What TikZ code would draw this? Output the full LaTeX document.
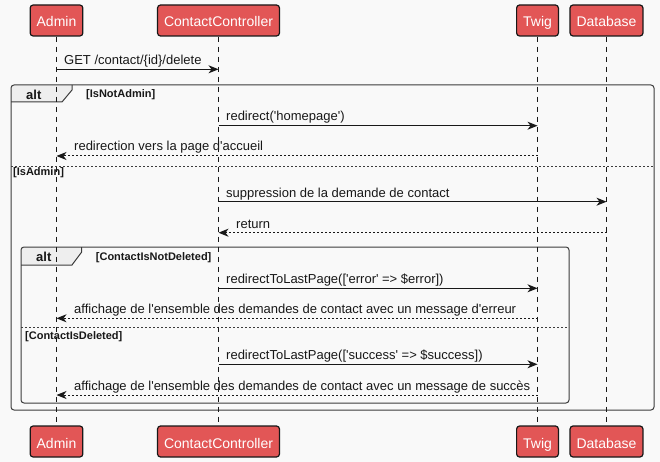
\documentclass[tikz,border=0pt]{standalone}
\usepackage{fontspec}
\setmainfont{Liberation Sans}[Ligatures=TeXOff]
\usetikzlibrary{arrows.meta, positioning, calc}
\definecolor{actorred}{RGB}{226,86,86}
\definecolor{linegray}{RGB}{24,24,24}
\definecolor{framegray}{RGB}{60,60,60}
\definecolor{tabgray}{RGB}{238,238,238}
\definecolor{bggray}{RGB}{249,249,249}
\tikzset{
  actor/.style={rectangle, rounded corners=3pt, draw=linegray, line width=1.2pt, fill=actorred, text=white, font=\fontsize{14}{16}\selectfont, minimum height=31pt, inner xsep=6.5pt, text height=13pt, text depth=0pt},
  lifeline/.style={draw=linegray, dash pattern=on 5pt off 5pt, line width=0.8pt},
  call/.style={-{Stealth[length=10pt, width=8pt, inset=3pt]}, draw=linegray, line width=1pt},
  reply/.style={call, dash pattern=on 2pt off 2pt},
  msgtext/.style={anchor=base west, inner sep=0pt, text=linegray, font=\fontsize{13}{15}\selectfont},
  guardtext/.style={anchor=base west, inner sep=0pt, text=linegray, font=\bfseries\fontsize{11}{13}\selectfont},
  alttext/.style={anchor=base west, inner sep=0pt, text=linegray, font=\bfseries\fontsize{13}{15}\selectfont},
  altframe/.style={draw=framegray, line width=1pt, rounded corners=3pt},
  alttab/.style={draw=framegray, line width=1pt},
  separator/.style={draw=framegray, line width=0.6pt, dash pattern=on 2pt off 2pt},
}

\begin{document}
\begin{tikzpicture}[x=1pt, y=-1pt]
\useasboundingbox[fill=bggray] (0,0) rectangle (660,462);

% frames
\fill[tabgray, rounded corners=3pt] (11,102) -- (11,85) [sharp corners] -- (72,85) -- (72,90) -- (62,102) -- cycle;
\draw[altframe] (11,85) rectangle (654,410);
\draw[alttab] (72,85) -- (72,90) -- (62,102) -- (11,102);
\draw[separator] (11,166) -- (654,166);
\fill[tabgray, rounded corners=3pt] (21,265) -- (21,247) [sharp corners] -- (81.7,247) -- (81.7,252) -- (72,265) -- cycle;
\draw[altframe] (21,247) rectangle (569,403);
\draw[alttab] (81.7,247) -- (81.7,252) -- (72,265) -- (21,265);
\draw[separator] (21,327) -- (569,327);

% participants
\node[actor] (admin) at (56.5,20.5) {Admin};
\node[actor] (ctrl) at (218.5,20.5) {ContactController};
\node[actor] (twig) at (537.5,20.5) {Twig};
\node[actor] (db) at (606.5,20.5) {Database};
\node[actor] (adminB) at (56.5,441.5) {Admin};
\node[actor] (ctrlB) at (218.5,441.5) {ContactController};
\node[actor] (twigB) at (537.5,441.5) {Twig};
\node[actor] (dbB) at (606.5,441.5) {Database};

\draw[lifeline] (admin.south) -- (adminB.north);
\draw[lifeline] (ctrl.south) -- (ctrlB.north);
\draw[lifeline] (twig.south) -- (twigB.north);
\draw[lifeline] (db.south) -- (dbB.north);

% frame labels
\node[alttext] (alt1) at (26,100) {alt};
\node[guardtext] (g1) at (86,98) {[IsNotAdmin]};
\node[guardtext] (g2) at (13,176) {[IsAdmin]};
\node[alttext] (alt2) at (36,261) {alt};
\node[guardtext] (g3) at (95.7,260.5) {[ContactIsNotDeleted]};
\node[guardtext] (g4) at (25,339) {[ContactIsDeleted]};

% messages
\coordinate (m1) at (0,69.3);
\coordinate (m2) at (0,125.7);
\coordinate (m3) at (0,156);
\coordinate (m4) at (0,201.7);
\coordinate (m5) at (0,232.7);
\coordinate (m6) at (0,288.3);
\coordinate (m7) at (0,318.3);
\coordinate (m8) at (0,364.3);
\coordinate (m9) at (0,395);

\draw[call] (admin |- m1) -- (ctrl |- m1);
\draw[call] (ctrl |- m2) -- (twig |- m2);
\draw[reply] (twig |- m3) -- (admin |- m3);
\draw[call] (ctrl |- m4) -- (db |- m4);
\draw[reply] (db |- m5) -- (ctrl |- m5);
\draw[call] (ctrl |- m6) -- (twig |- m6);
\draw[reply] (twig |- m7) -- (admin |- m7);
\draw[call] (ctrl |- m8) -- (twig |- m8);
\draw[reply] (twig |- m9) -- (admin |- m9);

\node[msgtext] (t1) at (64,64.5) {GET /contact/\{id\}/delete};
\node[msgtext] (t2) at (226,121) {redirect('homepage')};
\node[msgtext] (t3) at (74,151) {redirection vers la page d'accueil};
\node[msgtext] (t4) at (226,197) {suppression de la demande de contact};
\node[msgtext] (t5) at (236,228) {return};
\node[msgtext] (t6) at (226,283.5) {redirectToLastPage(['error' => \$error])};
\node[msgtext] (t7) at (74,313.5) {affichage de l'ensemble des demandes de contact avec un message d'erreur};
\node[msgtext] (t8) at (226,359.5) {redirectToLastPage(['success' => \$success])};
\node[msgtext] (t9) at (74,390) {affichage de l'ensemble des demandes de contact avec un message de succès};
\end{tikzpicture}
\end{document}
